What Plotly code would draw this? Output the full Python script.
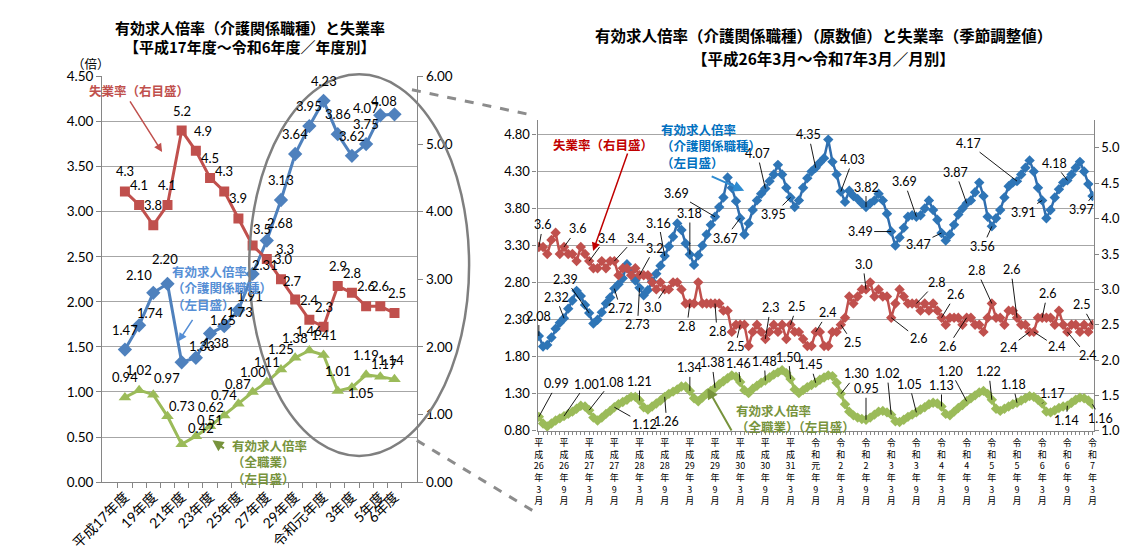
import re
import plotly.graph_objects as go

W, H = 1146, 553

# ---------------- 年度別 (左のグラフ) ----------------
fiscal_years = ["平成17年度", "平成18年度", "平成19年度", "平成20年度", "平成21年度",
                "平成22年度", "平成23年度", "平成24年度", "平成25年度", "平成26年度",
                "平成27年度", "平成28年度", "平成29年度", "平成30年度", "令和元年度",
                "令和2年度", "令和3年度", "令和4年度", "令和5年度", "令和6年度"]
fiscal_tick_text = ["平成17年度", "", "19年度", "", "21年度", "", "23年度", "", "25年度", "",
                    "27年度", "", "29年度", "", "令和元年度", "", "3年度", "", "5年度", "6年度"]
care_ratio_fy = [1.47, 1.74, 2.10, 2.20, 1.33, 1.38, 1.65, 1.73, 1.91, 2.31,
                 2.68, 3.13, 3.64, 3.95, 4.23, 3.86, 3.62, 3.75, 4.07, 4.08]
all_ratio_fy = [0.94, 1.02, 0.97, 0.73, 0.42, 0.51, 0.62, 0.74, 0.87, 1.00,
                1.11, 1.25, 1.38, 1.46, 1.41, 1.01, 1.05, 1.19, 1.17, 1.14]
unemployment_fy = [4.3, 4.1, 3.8, 4.1, 5.2, 4.9, 4.5, 4.3, 3.9, 3.5,
                   3.3, 3.0, 2.7, 2.4, 2.3, 2.9, 2.8, 2.6, 2.6, 2.5]

# ---------------- 月別 (右のグラフ) 平成26年3月～令和7年3月 ----------------
care_ratio_month = [
    2.08, 1.94, 1.96, 2.06, 2.18, 2.26, 2.32, 2.45, 2.56, 2.69, 2.62, 2.50,
    2.39, 2.25, 2.30, 2.40, 2.52, 2.60, 2.72, 2.78, 2.86, 3.05, 2.95, 2.83,
    2.73, 2.63, 2.70, 2.82, 2.92, 3.03, 3.16, 3.29, 3.42, 3.60, 3.51, 3.33,
    3.18, 3.04, 3.17, 3.30, 3.45, 3.58, 3.69, 3.82, 3.95, 4.22, 4.08, 3.90,
    3.67, 3.45, 3.60, 3.78, 3.91, 4.00, 4.07, 4.17, 4.26, 4.39, 4.26, 4.08,
    3.95, 3.82, 3.91, 4.08, 4.21, 4.30, 4.35, 4.42, 4.48, 4.73, 4.43, 4.26,
    4.03, 3.89, 4.04, 3.97, 3.93, 3.87, 3.82, 3.87, 3.91, 4.00, 3.91, 3.73,
    3.49, 3.30, 3.41, 3.54, 3.69, 3.71, 3.69, 3.71, 3.80, 3.91, 3.78, 3.65,
    3.47, 3.37, 3.45, 3.58, 3.72, 3.80, 3.87, 3.91, 4.02, 4.15, 3.97, 3.69,
    3.56, 3.67, 3.78, 3.95, 4.10, 4.15, 4.17, 4.26, 4.35, 4.45, 4.30, 4.08,
    3.91, 3.67, 3.78, 3.95, 4.06, 4.15, 4.18, 4.26, 4.35, 4.43, 4.30, 4.13,
    3.97]
unemployment_month = [
    3.6, 3.6, 3.5, 3.7, 3.8, 3.5, 3.6, 3.5, 3.5, 3.4, 3.6, 3.5,
    3.4, 3.3, 3.3, 3.4, 3.3, 3.4, 3.4, 3.2, 3.3, 3.3, 3.2, 3.3,
    3.2, 3.2, 3.2, 3.1, 3.0, 3.1, 3.0, 3.0, 3.1, 3.1, 3.0, 2.8,
    2.8, 2.8, 3.1, 2.8, 2.8, 2.8, 2.8, 2.8, 2.7, 2.7, 2.4, 2.5,
    2.5, 2.5, 2.2, 2.4, 2.5, 2.4, 2.3, 2.4, 2.5, 2.4, 2.5, 2.3,
    2.5, 2.4, 2.4, 2.3, 2.2, 2.2, 2.4, 2.4, 2.2, 2.2, 2.4, 2.4,
    2.5, 2.6, 2.9, 2.8, 2.9, 3.0, 3.0, 3.1, 2.9, 3.0, 2.9, 2.9,
    2.6, 2.8, 3.0, 2.9, 2.8, 2.8, 2.8, 2.7, 2.8, 2.7, 2.8, 2.7,
    2.6, 2.5, 2.6, 2.6, 2.6, 2.5, 2.6, 2.6, 2.5, 2.5, 2.4, 2.6,
    2.8, 2.6, 2.6, 2.5, 2.7, 2.7, 2.6, 2.5, 2.5, 2.4, 2.4, 2.6,
    2.6, 2.6, 2.6, 2.5, 2.7, 2.5, 2.4, 2.5, 2.5, 2.4, 2.5, 2.4,
    2.5]
all_ratio_month = [
    0.99, 0.90, 0.86, 0.90, 0.94, 0.97, 1.00, 1.03, 1.06, 1.10, 1.14, 1.13,
    1.08, 0.98, 0.94, 0.98, 1.03, 1.07, 1.12, 1.16, 1.19, 1.22, 1.26, 1.26,
    1.21, 1.12, 1.09, 1.13, 1.17, 1.21, 1.26, 1.30, 1.33, 1.36, 1.40, 1.40,
    1.34, 1.24, 1.20, 1.25, 1.30, 1.34, 1.38, 1.43, 1.47, 1.51, 1.55, 1.53,
    1.46, 1.35, 1.31, 1.37, 1.41, 1.45, 1.48, 1.52, 1.56, 1.59, 1.62, 1.58,
    1.50, 1.36, 1.31, 1.35, 1.39, 1.42, 1.45, 1.49, 1.52, 1.55, 1.54, 1.45,
    1.30, 1.16, 1.06, 1.01, 0.98, 0.96, 0.95, 0.98, 1.02, 1.06, 1.07, 1.05,
    1.02, 0.93, 0.92, 0.95, 0.99, 1.02, 1.05, 1.09, 1.12, 1.16, 1.18, 1.17,
    1.13, 1.03, 1.01, 1.06, 1.11, 1.15, 1.20, 1.24, 1.28, 1.32, 1.34, 1.30,
    1.22, 1.10, 1.07, 1.10, 1.13, 1.16, 1.18, 1.21, 1.24, 1.27, 1.26, 1.22,
    1.17, 1.06, 1.05, 1.08, 1.11, 1.13, 1.14, 1.18, 1.22, 1.25, 1.24, 1.21,
    1.16]
month_tick_text = ["平成26年3月", "平成26年9月", "平成27年3月", "平成27年9月", "平成28年3月",
                   "平成28年9月", "平成29年3月", "平成29年9月", "平成30年3月", "平成30年9月",
                   "平成31年3月", "令和元年9月", "令和2年3月", "令和2年9月", "令和3年3月",
                   "令和3年9月", "令和4年3月", "令和4年9月", "令和5年3月", "令和5年9月",
                   "令和6年3月", "令和6年9月", "令和7年3月"]

# label placement (pixel offsets of the text from its point)
fy_red_off = {i: (0, -20) for i in range(20)}
fy_red_off.update({5: (7, -20), 9: (9, -17), 10: (18, -10), 11: (3, -20), 12: (-3, -19), 19: (3, -20)})
fy_blue_off = {i: (0, -20) for i in range(20)}
fy_blue_off.update({1: (11, -12), 2: (-14, -18), 3: (-2, -25), 4: (20, -16), 5: (20, -15), 6: (13, -13),
                    7: (16, -14), 8: (12, -14), 9: (12, -9), 10: (13, -18), 18: (-14, -7), 19: (-10, -13)})
fy_green_off = {i: (0, -20) for i in range(20)}
fy_green_off.update({2: (14, -17), 3: (15, -10), 4: (19, -16), 5: (14, -16), 6: (1, -19),
                     16: (9, 6), 18: (4, -13), 19: (-3, -19)})

m_blue_off = {0: (0, -20), 6: (-8, -21), 12: (-24, -34), 18: (6, 20), 24: (-2, 37), 30: (-6, -33),
              36: (0, -41), 42: (-39, -23), 48: (-15, 20), 54: (-8, -35), 60: (-17, 17), 66: (-7, -33),
              72: (12, -32), 78: (0, -20), 84: (-31, 0), 90: (-12, -35), 96: (-23, 11), 102: (-11, -31),
              108: (-9, 20), 114: (-49, -38), 120: (-19, 12), 126: (-13, -17), 132: (-11, 14)}
m_red_off = {0: (4, -22), 6: (13, -18), 12: (17, -23), 18: (21, -23), 24: (15, -27), 30: (-12, 18),
             36: (-3, 23), 42: (2, 28), 48: (-5, 22), 54: (5, -31), 60: (6, -18), 66: (12, -19),
             72: (12, 18), 78: (-3, -25), 84: (27, 21), 90: (20, -21), 96: (14, -23), 102: (-19, 29),
             108: (-15, -33), 114: (-6, -48), 117: (-21, 16), 118: (23, 15), 120: (5, -24),
             126: (20, 24), 132: (-11, -20)}
m_green_off = {0: (18, -33), 6: (22, -32), 12: (22, -28), 18: (30, 17), 24: (0, -19), 30: (2, 25),
               36: (0, -23), 42: (-3, -25), 48: (-2, -19), 54: (-1, -19), 60: (-2, -22), 66: (-5, -18),
               72: (16, -20), 78: (0, -31), 84: (-4, -41), 90: (-7, -28), 96: (0, -21), 102: (-16, -30),
               108: (-3, -28), 114: (-4, -18), 120: (10, -10), 126: (-1, 15), 132: (8, 14)}

JP = "Noto Sans CJK JP"
NUM = "Lato, Noto Sans CJK JP"
BLUE_L, RED, GREEN = "#4F81BD", "#C0504D", "#9BBB59"
BLUE_R = "#2E75B6"
GRID, AXIS = "#A6A6A6", "#868686"


def px(x):
    return x / W


def py(y):
    return 1 - y / H


def vertical(s):
    return "<br>".join(re.findall(r"\d+|.", s))


months = list(range(len(care_ratio_month)))
month_ticks = [""] * len(months)
for k, t in enumerate(month_tick_text):
    month_ticks[k * 6] = vertical(t)

fig = go.Figure()

# left chart
fig.add_trace(go.Scatter(x=fiscal_years, y=care_ratio_fy, mode="lines+markers", xaxis="x", yaxis="y",
                         line=dict(color=BLUE_L, width=3), marker=dict(symbol="diamond", size=11, color=BLUE_L)))
fig.add_trace(go.Scatter(x=fiscal_years, y=all_ratio_fy, mode="lines+markers", xaxis="x", yaxis="y",
                         line=dict(color=GREEN, width=3), marker=dict(symbol="triangle-up", size=11, color=GREEN)))
fig.add_trace(go.Scatter(x=fiscal_years, y=unemployment_fy, mode="lines+markers", xaxis="x", yaxis="y2",
                         line=dict(color=RED, width=3), marker=dict(symbol="square", size=10, color=RED)))

# right chart
fig.add_trace(go.Scatter(x=months, y=all_ratio_month, mode="lines+markers", xaxis="x2", yaxis="y3",
                         line=dict(color=GREEN, width=3), marker=dict(symbol="diamond", size=8, color=GREEN)))
fig.add_trace(go.Scatter(x=months, y=care_ratio_month, mode="lines+markers", xaxis="x2", yaxis="y3",
                         line=dict(color="#2F6DAE", width=2.5), marker=dict(symbol="diamond", size=8, color=BLUE_R)))
fig.add_trace(go.Scatter(x=months, y=unemployment_month, mode="lines+markers", xaxis="x2", yaxis="y4",
                         line=dict(color=RED, width=2.5), marker=dict(symbol="diamond", size=8, color=RED)))

ann = []

# left data labels
for series, yref, offs, fmt in [(unemployment_fy, "y2", fy_red_off, "{:.1f}"),
                                (care_ratio_fy, "y", fy_blue_off, "{:.2f}"),
                                (all_ratio_fy, "y", fy_green_off, "{:.2f}")]:
    for i, v in enumerate(series):
        dx, dy = offs[i]
        ann.append(dict(x=fiscal_years[i], y=v, xref="x", yref=yref, text=fmt.format(v), showarrow=False,
                        xshift=dx, yshift=-dy, font=dict(family=NUM, size=13, color="#000")))

# right data labels with leader lines
for series, yref, offs, fmt in [(care_ratio_month, "y3", m_blue_off, "{:.2f}"),
                                (unemployment_month, "y4", m_red_off, "{:.1f}"),
                                (all_ratio_month, "y3", m_green_off, "{:.2f}")]:
    for i, (dx, dy) in offs.items():
        ann.append(dict(x=months[i], y=series[i], xref="x2", yref=yref, text=fmt.format(series[i]),
                        showarrow=True, arrowhead=0, arrowwidth=0.9, arrowcolor="#000", standoff=0,
                        ax=dx, ay=dy, font=dict(family=NUM, size=12.5, color="#000")))


def note(x, y, text, color, size=12.5, anchor="left"):
    ann.append(dict(x=px(x), y=py(y), xref="paper", yref="paper", text="<b>" + text + "</b>",
                    showarrow=False, xanchor=anchor, yanchor="middle", align="left",
                    font=dict(family=JP, size=size, color=color)))


def arrow(x_head, y_head, x_tail, y_tail, color, width=1.5):
    ann.append(dict(x=px(x_head), y=py(y_head), xref="paper", yref="paper", text="",
                    showarrow=True, arrowhead=2, arrowsize=1.1, arrowwidth=width, arrowcolor=color,
                    ax=x_tail - x_head, ay=y_tail - y_head))


# titles
note(216, 12, "有効求人倍率（介護関係職種）と失業率", "#000", 15, "center")
note(216, 31, "【平成17年度～令和6年度／年度別】", "#000", 15, "center")
note(808, 20, "有効求人倍率（介護関係職種）（原数値）と失業率（季節調整値）", "#000", 15.5, "center")
note(808, 43, "【平成26年3月～令和7年3月／月別】", "#000", 15.5, "center")
ann.append(dict(x=px(30), y=py(37), xref="paper", yref="paper", text="（倍）", showarrow=False,
                font=dict(family=JP, size=12.5, color="#000")))

# series notes
note(47, 77, "失業率（右目盛）", "#C0504D", 12.5)
note(133, 280, "有効求人倍率<br>（介護関係職種）<br>（左目盛）", "#558ED5", 12.5)
note(195, 459, "有効求人倍率<br>（全職業）<br>（左目盛）", "#77933C", 12.5)
note(527, 132, "失業率（右目盛）", "#C00000", 12.5)
note(638, 134, "有効求人倍率<br>（介護関係職種）<br>（左目盛）", "#0070C0", 12.5)
note(715, 414, "有効求人倍率<br>（全職業）（左目盛）", "#77933C", 12.5)

arrow(125, 140, 92, 88, "#C0504D")
arrow(142, 335, 157, 312, "#558ED5")
arrow(177, 437, 190, 446, "#77933C", 2)
arrow(570, 242, 605, 143, "#C00000")
arrow(726, 180, 692, 165, "#2E8BD0", 2)
arrow(688, 383, 713, 427, "#77933C", 2)

shapes = [
    dict(type="circle", xref="paper", yref="paper", x0=px(215), x1=px(442), y0=py(453), y1=py(60),
         line=dict(color="#7F7F7F", width=2.5)),
    dict(type="line", xref="paper", yref="paper", x0=px(383), y0=py(76), x1=px(507), y1=py(102),
         line=dict(color="#8C8C8C", width=3, dash="dash")),
    dict(type="line", xref="paper", yref="paper", x0=px(388), y0=py(437), x1=px(512), y1=py(512),
         line=dict(color="#8C8C8C", width=3, dash="dash")),
]

tickfont_l = dict(family=NUM, size=13.5, color="#000")
tickfont_r = dict(family=NUM, size=13, color="#000")

fig.update_layout(
    width=W, height=H, margin=dict(l=0, r=0, t=0, b=0),
    paper_bgcolor="white", plot_bgcolor="white", showlegend=False,
    xaxis=dict(domain=[px(63.3), px(388.3)], anchor="y", type="category", tickson="boundaries",
               tickmode="array", tickvals=fiscal_years, ticktext=fiscal_tick_text, tickangle=-45,
               ticks="outside", ticklen=5, tickcolor=AXIS, showline=True, linecolor=AXIS, linewidth=1.3,
               showgrid=False, tickfont=dict(family=NUM, size=14, color="#000")),
    yaxis=dict(domain=[py(480), py(62.3)], anchor="x", range=[0, 4.5], tick0=0, dtick=0.5,
               tickformat=".2f", showgrid=True, gridcolor=GRID, gridwidth=1.3, zeroline=False,
               showline=True, linecolor=AXIS, linewidth=1.3, ticks="outside", ticklen=5,
               tickcolor=AXIS, tickfont=tickfont_l),
    yaxis2=dict(overlaying="y", side="right", anchor="x", range=[0, 6], tick0=0, dtick=1,
                tickformat=".2f", showgrid=False, zeroline=False, showline=True, linecolor=AXIS,
                linewidth=1.3, ticks="outside", ticklen=5, tickcolor=AXIS, tickfont=tickfont_l),
    xaxis2=dict(domain=[px(512.7), px(1086.7)], anchor="y3", range=[-0.3, 132.25],
                tickmode="array", tickvals=months, ticktext=month_ticks, tickangle=0,
                ticks="outside", ticklen=3, tickcolor=AXIS, showline=True, linecolor=AXIS,
                linewidth=1.3, showgrid=False, zeroline=False,
                tickfont=dict(family=JP, size=9, color="#000")),
    yaxis3=dict(domain=[py(427.3), py(106.7)], anchor="x2", range=[0.8, 5.0], tick0=0.8, dtick=0.5,
                tickformat=".2f", showgrid=True, gridcolor=GRID, gridwidth=1.3, zeroline=False,
                showline=True, linecolor=AXIS, linewidth=1.3, ticks="outside", ticklen=4,
                tickcolor=AXIS, tickfont=tickfont_r),
    yaxis4=dict(overlaying="y3", side="right", anchor="x2", range=[1.0, 5.4], tick0=1.0, dtick=0.5,
                tickformat=".1f", showgrid=False, zeroline=False, showline=True, linecolor=AXIS,
                linewidth=1.3, ticks="outside", ticklen=4, tickcolor=AXIS, tickfont=tickfont_r),
    annotations=ann,
    shapes=shapes,
)

fig.write_html("out.html")
